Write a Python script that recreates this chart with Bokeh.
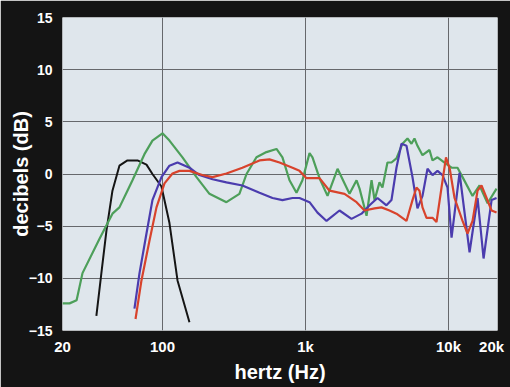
from bokeh.plotting import figure
from bokeh.models import FixedTicker, Range1d
from bokeh.embed import file_html
from bokeh.resources import INLINE

# ---- data (Hz, dB) ----
black_f = [34.5, 37.4, 40.6, 44.7, 50.0, 56.9, 66.9, 77.3, 85.1, 98.4, 111.9, 127.4, 154.4]
black_db = [-13.6, -9.5, -5.4, -1.6, 0.8, 1.3, 1.3, 0.9, 0.0, -1.2, -4.7, -10.2, -14.2]

green_f = [20, 22.4, 25.1, 27.6, 36.3, 44.7, 50.0, 56.9, 61.7, 74.8, 85.1, 100, 111.9, 138, 173,
           213, 280, 345, 387, 454, 533, 627, 690, 773, 865, 952, 1067, 1119, 1253, 1426, 1675,
           1935, 2031, 2275, 2388, 2672, 2897, 3040, 3291, 3452, 3741, 3991, 4325, 4764, 5164,
           5509, 5779, 6067, 6577, 7362, 7727, 8375, 9376, 10500, 11560, 12530, 14720, 16480,
           18750, 21670]
green_db = [-12.4, -12.4, -12.1, -9.5, -6.2, -3.8, -3.2, -1.6, -0.6, 1.9, 3.2, 3.9, 3.2, 1.6, -0.3,
            -1.9, -2.7, -1.9, 0.0, 1.6, 2.1, 2.4, 1.6, -0.6, -1.8, -0.6, 2.0, 1.6, -0.4, -2.1, 0.5,
            -1.3, -1.9, -0.6, -1.4, -4.0, -0.6, -2.5, -0.8, -1.3, 1.1, 1.1, 1.5, 2.9, 3.4,
            2.9, 3.4, 2.7, 1.8, 2.3, 1.3, 1.6, 1.1, 0.6, 0.6, -0.3, -2.1, -1.1,
            -2.8, -1.4]

blue_f = [63.7, 69.1, 77.3, 85.1, 98.4, 111.9, 127.4, 154.4, 181, 224, 280, 362, 477, 588, 690,
          811, 908, 1067, 1213, 1403, 1729, 2097, 2466, 2805, 3187, 3683, 3991, 4325, 4688, 5082,
          5598, 6067, 6577, 7129, 7727, 8375, 9077, 9843, 10500, 11940, 14030, 15960, 17580,
          20000, 21670]
blue_db = [-12.9, -9.5, -5.7, -2.5, -0.3, 0.8, 1.1, 0.6, -0.1, -0.5, -0.8, -1.1, -1.8, -2.3, -2.5,
           -2.3, -2.3, -2.7, -3.7, -4.5, -3.5, -4.3, -3.8, -3.0, -2.3, -3.0, -2.5, 0.6, 2.9, 2.7,
           -0.3, -3.3, -2.1, 0.5, -0.1, 0.3, -0.1, -1.3, -6.1, 0.1, -7.5, -2.3, -8.1,
           -2.5, -2.3]

red_f = [64.8, 71.3, 81.1, 90.8, 103.3, 117.5, 131.5, 154.4, 190, 224, 280, 362, 477, 560, 658,
         811, 908, 1016, 1253, 1472, 1874, 2275, 2587, 3040, 3398, 3865, 4325, 5082, 5598, 5970,
         6266, 6577, 7015, 7727, 8241, 8933, 9600, 10200, 11020, 12530, 13580, 14720, 15960,
         17010, 18450, 20000, 21670]
red_db = [-13.9, -10.2, -6.4, -3.2, -0.9, 0.05, 0.3, 0.3, -0.1, -0.3, 0.05, 0.6, 1.3, 1.4, 1.1,
          0.6, 0.3, -0.4, -0.4, -1.6, -1.9, -2.7, -3.5, -3.3, -3.2, -3.5, -3.8, -4.5, -2.5, -1.3,
          -1.6, -3.2, -4.2, -4.2, -4.6, -1.3, 1.6, 0.5, -2.3, -4.5, -5.7, -4.5, -1.6,
          -1.1, -2.3, -3.5, -3.7]

x_ticks = [20, 100, 1000, 10000, 20000]
x_labels = ["20", "100", "1k", "10k", "20k"]
x_grid = [100, 1000, 10000]
y_ticks = [-15, -10, -5, 0, 5, 10, 15]
y_labels = ["\u221215", "\u221210", "\u22125", "0", "5", "10", "15"]
y_grid = [-10, -5, 0, 5, 10]

FONT = "Liberation Sans"
DARK = "#141414"

p = figure(width=510, height=387, x_axis_type="log",
           x_range=Range1d(20, 22000), y_range=Range1d(-15, 15),
           output_backend="svg", toolbar_location=None,
           min_border_left=62, min_border_right=13, min_border_top=17, min_border_bottom=57)

p.background_fill_color = "#dfe6ec"
p.border_fill_color = DARK
p.outline_line_color = None

p.xaxis.ticker = FixedTicker(ticks=x_ticks)
p.xaxis.major_label_overrides = dict(zip(x_ticks, x_labels))
p.yaxis.ticker = FixedTicker(ticks=y_ticks)
p.yaxis.major_label_overrides = dict(zip(y_ticks, y_labels))
p.xgrid.ticker = FixedTicker(ticks=x_grid)
p.ygrid.ticker = FixedTicker(ticks=y_grid)
for g in (p.xgrid, p.ygrid):
    g.grid_line_color = "#66686c"
    g.grid_line_width = 1

for ax in (p.xaxis, p.yaxis):
    ax.axis_line_color = None
    ax.major_tick_line_color = None
    ax.minor_tick_line_color = None
    ax.major_tick_out = 0
    ax.major_tick_in = 0
    ax.minor_tick_out = 0
    ax.minor_tick_in = 0
    ax.major_label_text_color = "white"
    ax.major_label_text_font = FONT
    ax.major_label_text_font_style = "bold"
    ax.axis_label_text_color = "white"
    ax.axis_label_text_font = FONT
    ax.axis_label_text_font_style = "bold"
    ax.axis_label_text_font_size = "20px"

p.xaxis.major_label_text_font_size = "15px"
p.yaxis.major_label_text_font_size = "14px"
p.xaxis.axis_label = "hertz (Hz)"
p.yaxis.axis_label = "decibels (dB)"
p.xaxis.major_label_standoff = 7
p.yaxis.major_label_standoff = 10
p.xaxis.axis_label_standoff = 3
p.yaxis.axis_label_standoff = -6

p.line(black_f, black_db, line_color="#151515", line_width=2)
p.line(green_f, green_db, line_color="#4d9f5a", line_width=2.2)
p.line(blue_f, blue_db, line_color="#4b3cae", line_width=2.2)
p.line(red_f, red_db, line_color="#d8432c", line_width=2.2)

html = file_html(p, INLINE)
html = html.replace("<body>", '<body style="background-color:%s;">' % DARK, 1)
open("out.html", "w").write(html)
